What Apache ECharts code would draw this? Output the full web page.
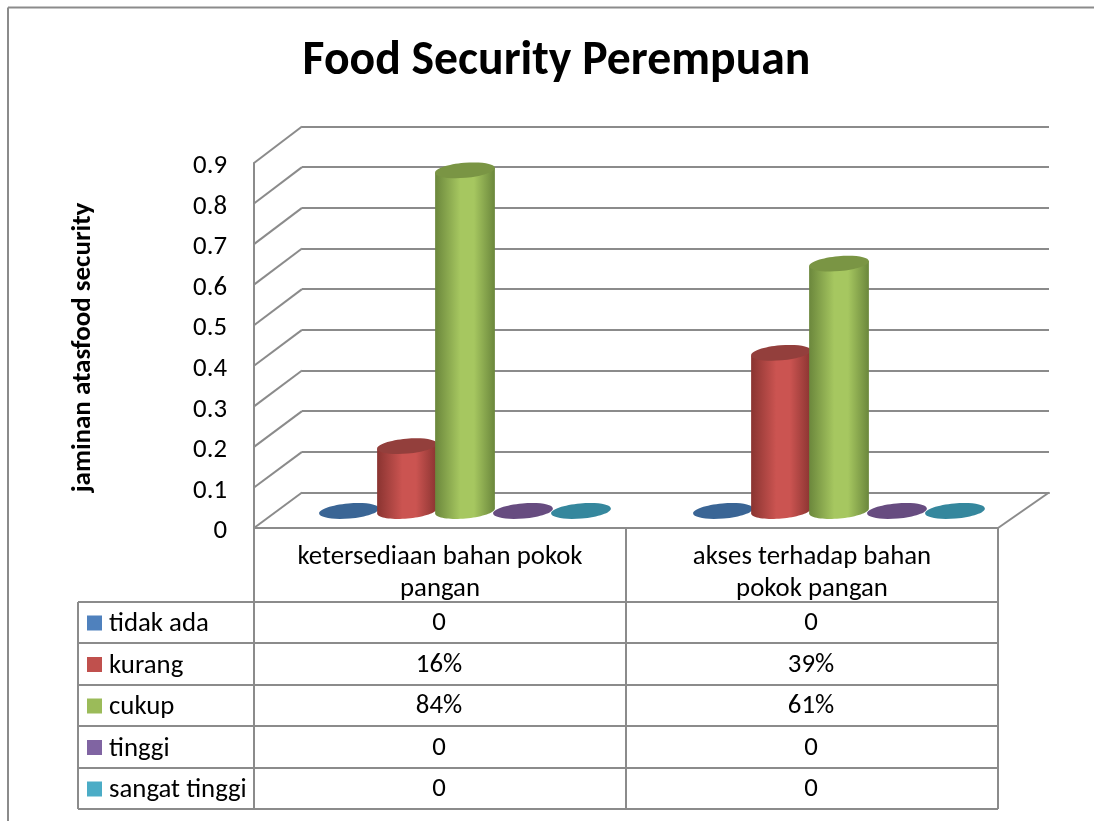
<!DOCTYPE html>
<html>
<head>
<meta charset="utf-8">
<style>html,body{margin:0;padding:0;background:#fff}#c{width:1094px;height:821px}</style>
<script src="https://cdn.jsdelivr.net/npm/echarts@6/dist/echarts.min.js"></script>
</head>
<body>
<div id="c"></div>
<script>
// Survey results by category
const categories = ['ketersediaan bahan pokok\npangan', 'akses terhadap bahan\npokok pangan'];
const seriesNames = ['tidak ada', 'kurang', 'cukup', 'tinggi', 'sangat tinggi'];
const tidakAda = [0, 0];
const kurang = [0.16, 0.39];
const cukup = [0.84, 0.61];
const tinggi = [0, 0];
const sangatTinggi = [0, 0];
const tableRows = [
  ['0', '0'],
  ['16%', '39%'],
  ['84%', '61%'],
  ['0', '0'],
  ['0', '0']
];
const yTicks = [0, 0.1, 0.2, 0.3, 0.4, 0.5, 0.6, 0.7, 0.8, 0.9];
const allValues = [tidakAda, kurang, cukup, tinggi, sangatTinggi];

const swatch = ['#4f81bd', '#c0504d', '#9bbb59', '#8064a2', '#4bacc6'];
const shades = [
  { edge: '#2f5480', mid: '#4f81bd', top: '#3a6595' },
  { edge: '#8a3431', mid: '#cb5451', top: '#933f3c' },
  { edge: '#6b873c', mid: '#a6c760', top: '#7a9544' },
  { edge: '#5a4478', mid: '#8064a2', top: '#674c80' },
  { edge: '#2e7a90', mid: '#4bacc6', top: '#35879d' }
];

const LINE = '#8b8b8b';
const LINE_W = 2;
const FONT = 'Carlito, Calibri, Lato, sans-serif';
const TEXT = '#000';
const SIZE = 26.8;

// Plot box on the front plane and on the back wall
const front = { left: 254, right: 998, top: 163, bottom: 528 };
const back = { left: 302, right: 1049, top: 126.5, bottom: 492.5 };
const rowLines = [602, 643, 685, 726, 768, 809];
const tableLeft = 78;

// Cylinders stand mid-way between the front edge and the back wall
const RX = 30, RY = 7.5, TILT = 5 * Math.PI / 180;
const barStep = 58;
const firstOffset = -91;
const floorLift = -17;

function ellipsePoint(cx, cy, t) {
  const x = RX * Math.cos(t), y = RY * Math.sin(t);
  return [cx + x * Math.cos(TILT) + y * Math.sin(TILT), cy - x * Math.sin(TILT) + y * Math.cos(TILT)];
}
function bodyPoints(cx, topY, baseY) {
  const pts = [];
  for (let i = 0; i <= 36; i++) pts.push(ellipsePoint(cx, baseY, Math.PI - Math.PI * i / 36));
  pts.push(ellipsePoint(cx, topY, 0));
  pts.push(ellipsePoint(cx, topY, Math.PI));
  return pts;
}

function cylinderSeries(idx) {
  return {
    type: 'custom',
    name: seriesNames[idx],
    coordinateSystem: 'cartesian2d',
    xAxisIndex: 0,
    yAxisIndex: 0,
    z: 5 + idx,
    itemStyle: { color: swatch[idx] },
    data: allValues[idx].map((v, c) => [c, v]),
    renderItem(params, api) {
      const c = api.value(0), v = api.value(1);
      const base = api.coord([c, 0]);
      const top = api.coord([c, v]);
      const cx = base[0] + firstOffset + idx * barStep + (c === 1 ? 2 : 0);
      const baseY = base[1] + floorLift;
      const topY = top[1] + floorLift;
      const s = shades[idx];
      const children = [];
      if (v > 0) {
        children.push({
          type: 'polygon',
          shape: { points: bodyPoints(cx, topY, baseY) },
          style: {
            fill: new echarts.graphic.LinearGradient(0, 0, 1, 0, [
              { offset: 0, color: s.edge },
              { offset: 0.42, color: s.mid },
              { offset: 0.65, color: s.mid },
              { offset: 1, color: s.edge }
            ])
          }
        });
      }
      children.push({
        type: 'ellipse',
        x: cx,
        y: topY,
        rotation: TILT,
        shape: { cx: 0, cy: 0, rx: RX, ry: RY },
        style: { fill: s.top }
      });
      return { type: 'group', children };
    }
  };
}

// Sloping lines on the left wall, one per tick, running to the back wall
const wallSeries = {
  type: 'custom',
  coordinateSystem: 'cartesian2d',
  xAxisIndex: 0,
  yAxisIndex: 0,
  z: 2,
  silent: true,
  data: yTicks.map(t => [0, t]),
  renderItem(params, api) {
    const v = api.value(1);
    const p = api.coord([0, v]);
    const backY = back.bottom - (v / 0.9) * (back.bottom - back.top);
    return {
      type: 'line',
      shape: { x1: front.left, y1: p[1], x2: back.left, y2: backY },
      style: { stroke: LINE, lineWidth: LINE_W }
    };
  }
};
// Right edge of the floor
const rightEdge = {
  type: 'custom',
  coordinateSystem: 'cartesian2d',
  xAxisIndex: 0,
  yAxisIndex: 0,
  z: 2,
  silent: true,
  data: [[1, 0]],
  renderItem(params, api) {
    const p = api.coord([1, 0]);
    return {
      type: 'line',
      shape: { x1: front.right, y1: p[1], x2: back.right, y2: back.bottom },
      style: { stroke: LINE, lineWidth: LINE_W }
    };
  }
};

// Data table under the plot, built from the rows above
const tableGraphics = [];
function tLine(x1, y1, x2, y2) {
  tableGraphics.push({
    type: 'line',
    shape: { x1, y1, x2, y2 },
    style: { stroke: LINE, lineWidth: LINE_W },
    silent: true
  });
}
const mid = (front.left + front.right) / 2;
tLine(front.left, front.bottom, front.left, rowLines[5]);
tLine(mid, front.bottom, mid, rowLines[5]);
tLine(front.right, front.bottom, front.right, rowLines[5]);
tLine(tableLeft, rowLines[0], tableLeft, rowLines[5]);
rowLines.forEach(y => tLine(tableLeft, y, front.right, y));
tableRows.forEach((row, r) => {
  row.forEach((txt, c) => {
    tableGraphics.push({
      type: 'text',
      silent: true,
      style: {
        x: front.left + (c + 0.5) * (front.right - front.left) / 2 - 1,
        y: (rowLines[r] + rowLines[r + 1]) / 2 + 1,
        text: txt,
        align: 'center',
        verticalAlign: 'middle',
        fontFamily: FONT,
        fontSize: SIZE,
        fill: TEXT
      }
    });
  });
});
// Frame around the page
tLine(8, 7.5, 8, 821);
tLine(8, 7.5, 1094, 7.5);

const chart = echarts.init(document.getElementById('c'), null, { renderer: 'canvas' });
chart.setOption({
  backgroundColor: '#fff',
  animation: false,
  title: {
    text: 'Food Security Perempuan',
    left: 551.5,
    top: 33,
    textAlign: 'center',
    textStyle: { fontFamily: FONT, fontWeight: 'bold', fontSize: 47.7, color: TEXT }
  },
  legend: {
    orient: 'vertical',
    left: 87,
    top: 611,
    padding: 0,
    height: 210,
    itemWidth: 15,
    itemHeight: 15,
    itemGap: 14.5,
    icon: 'rect',
    selectedMode: false,
    data: seriesNames.map((n, i) => ({ name: n, itemStyle: { color: swatch[i] } })),
    formatter: name => `{t|${name}}`,
    textStyle: {
      rich: { t: { fontFamily: FONT, fontSize: SIZE, color: TEXT, padding: [3, 0, 0, 2] } }
    }
  },
  grid: [
    { left: front.left, right: 1094 - front.right, top: front.top, bottom: 821 - front.bottom },
    { left: back.left, right: 1094 - back.right, top: back.top, bottom: 821 - back.bottom }
  ],
  xAxis: [
    {
      type: 'category',
      gridIndex: 0,
      data: categories,
      axisLine: { show: true, lineStyle: { color: LINE, width: LINE_W } },
      axisTick: { show: false },
      axisLabel: { fontFamily: FONT, fontSize: SIZE, color: TEXT, lineHeight: 32, margin: 13 }
    },
    {
      type: 'category',
      gridIndex: 1,
      data: categories,
      axisLine: { show: true, lineStyle: { color: LINE, width: LINE_W } },
      axisTick: { show: false },
      axisLabel: { show: false }
    }
  ],
  yAxis: [
    {
      type: 'value',
      gridIndex: 0,
      min: 0,
      max: 0.9,
      interval: 0.1,
      name: 'jaminan atasfood security',
      nameLocation: 'middle',
      nameGap: 157,
      nameRotate: 90,
      nameTextStyle: { fontFamily: FONT, fontWeight: 'bold', fontSize: 27, color: TEXT, padding: [0, 4, 0, 0] },
      axisLine: { show: true, lineStyle: { color: LINE, width: LINE_W } },
      axisTick: { show: false },
      splitLine: { show: false },
      axisLabel: {
        margin: 27,
        formatter: '{t|{value}}',
        rich: { t: { fontFamily: FONT, fontSize: SIZE, color: TEXT, padding: [7, 0, 0, 0] } }
      }
    },
    {
      type: 'value',
      gridIndex: 1,
      min: 0,
      max: 0.9,
      interval: 0.1,
      axisLine: { show: false },
      axisTick: { show: false },
      axisLabel: { show: false },
      splitLine: { show: true, lineStyle: { color: LINE, width: LINE_W } }
    }
  ],
  series: [wallSeries, rightEdge].concat(seriesNames.map((_, i) => cylinderSeries(i))),
  graphic: { elements: tableGraphics }
});
</script>
</body>
</html>
